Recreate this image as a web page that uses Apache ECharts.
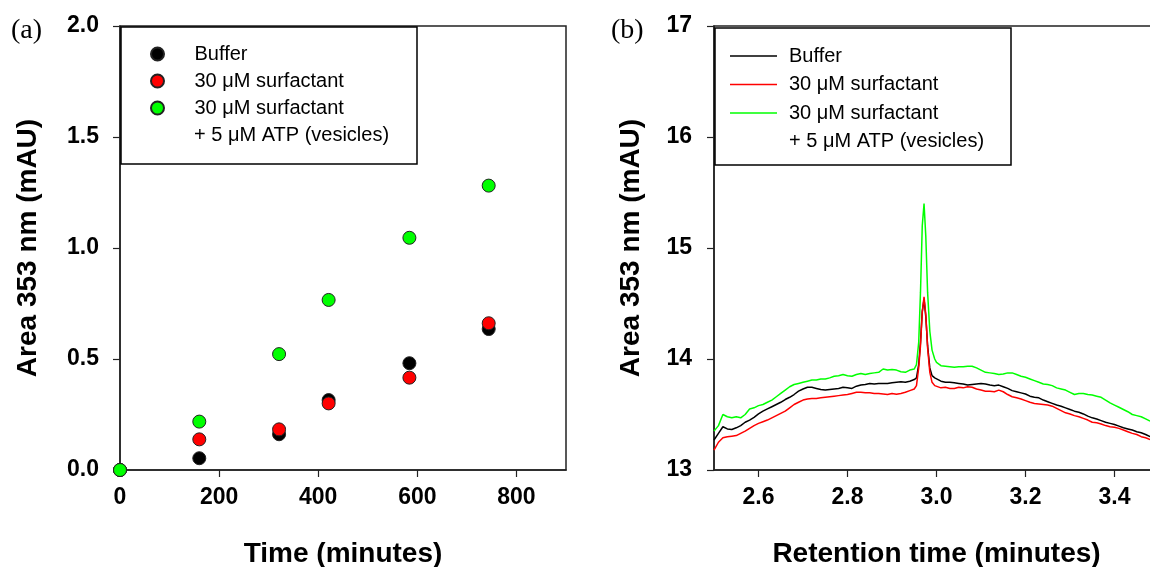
<!DOCTYPE html>
<html>
<head>
<meta charset="utf-8">
<script src="https://cdn.jsdelivr.net/npm/echarts@6/dist/echarts.min.js"></script>
<style>html,body{margin:0;padding:0;background:#fff}#c{width:1150px;height:567px}</style>
</head>
<body>
<div id="c"></div>
<script>
// ---------- Panel (a) data ----------
const scatterTime = [0, 160, 321, 421, 584, 744];
const bufferArea = [0, 0.053, 0.161, 0.315, 0.481, 0.635];
const surfactantArea = [0, 0.138, 0.183, 0.300, 0.416, 0.661];
const vesicleArea = [0, 0.218, 0.522, 0.766, 1.046, 1.281];
const xTicksA = [0, 200, 400, 600, 800];

// ---------- Panel (b) data ----------
const retTime = [
  2.50,2.51,2.52,2.53,2.54,2.55,2.56,2.57,2.58,2.59,
  2.60,2.61,2.62,2.63,2.64,2.65,2.66,2.67,2.68,2.69,
  2.70,2.71,2.72,2.73,2.74,2.75,2.76,2.77,2.78,2.79,
  2.80,2.81,2.82,2.83,2.84,2.85,2.86,2.87,2.88,2.89,
  2.90,2.91,2.92,2.93,2.94,2.95,
  2.955,2.960,2.964,2.968,2.972,2.976,2.980,2.985,2.990,2.996,
  3.00,3.01,3.02,3.03,3.04,3.05,3.06,3.07,3.08,3.09,
  3.10,3.11,3.12,3.13,3.14,3.15,3.16,3.17,3.18,3.19,
  3.20,3.21,3.22,3.23,3.24,3.25,3.26,3.27,3.28,3.29,
  3.30,3.31,3.32,3.33,3.34,3.35,3.36,3.37,3.38,3.39,
  3.40,3.41,3.42,3.43,3.44,3.45,3.46,3.47,3.48
];
const bufferTrace = [
  13.27,13.33,13.39,13.37,13.365,13.38,13.40,13.43,13.45,13.475,
  13.505,13.53,13.55,13.57,13.59,13.61,13.635,13.655,13.68,13.71,
  13.73,13.745,13.745,13.735,13.725,13.72,13.725,13.73,13.735,13.745,
  13.74,13.735,13.755,13.765,13.77,13.78,13.775,13.78,13.78,13.78,
  13.785,13.79,13.795,13.79,13.80,13.815,
  13.83,13.95,14.15,14.43,14.54,14.38,14.12,13.92,13.85,13.83,
  13.815,13.80,13.79,13.79,13.785,13.78,13.775,13.765,13.77,13.775,
  13.78,13.775,13.765,13.76,13.765,13.75,13.735,13.715,13.705,13.695,
  13.685,13.665,13.655,13.65,13.63,13.615,13.60,13.585,13.575,13.56,
  13.545,13.53,13.52,13.505,13.485,13.47,13.46,13.445,13.43,13.42,
  13.41,13.395,13.38,13.37,13.36,13.345,13.335,13.32,13.30
];
const surfactantTrace = [
  13.18,13.25,13.29,13.30,13.305,13.31,13.33,13.35,13.375,13.40,
  13.42,13.435,13.45,13.47,13.49,13.51,13.53,13.56,13.59,13.61,
  13.63,13.64,13.645,13.645,13.65,13.655,13.66,13.665,13.67,13.675,
  13.68,13.69,13.70,13.70,13.695,13.695,13.69,13.69,13.685,13.68,
  13.69,13.683,13.69,13.70,13.715,13.73,
  13.76,13.92,14.12,14.42,14.56,14.40,14.10,13.88,13.79,13.76,
  13.75,13.74,13.745,13.735,13.735,13.745,13.74,13.75,13.745,13.73,
  13.72,13.71,13.71,13.705,13.72,13.705,13.68,13.66,13.65,13.64,
  13.625,13.61,13.60,13.595,13.59,13.585,13.575,13.555,13.535,13.515,
  13.505,13.49,13.48,13.465,13.45,13.43,13.425,13.415,13.40,13.39,
  13.385,13.375,13.36,13.345,13.33,13.32,13.30,13.29,13.275
];
const vesicleTrace = [
  13.35,13.40,13.50,13.48,13.47,13.48,13.47,13.50,13.55,13.56,
  13.58,13.59,13.61,13.63,13.66,13.69,13.72,13.75,13.77,13.78,
  13.79,13.80,13.81,13.81,13.82,13.82,13.83,13.845,13.85,13.86,
  13.85,13.845,13.86,13.87,13.86,13.87,13.875,13.88,13.91,13.90,
  13.905,13.90,13.885,13.88,13.90,13.91,
  13.95,14.15,14.6,15.2,15.40,15.1,14.6,14.25,14.08,14.0,
  13.97,13.94,13.935,13.93,13.925,13.93,13.93,13.935,13.935,13.92,
  13.90,13.88,13.875,13.87,13.86,13.865,13.875,13.875,13.86,13.845,
  13.835,13.82,13.805,13.79,13.775,13.77,13.76,13.74,13.73,13.72,
  13.70,13.68,13.69,13.69,13.68,13.675,13.665,13.655,13.63,13.605,
  13.585,13.565,13.545,13.525,13.50,13.49,13.48,13.46,13.44
];
const xTicksB = [2.6, 2.8, 3.0, 3.2, 3.4];

const names = ['Buffer', '30 \u03bcM surfactant', '30 \u03bcM surfactant '];
const namesB = ['Buffer ', '30 \u03bcM surfactant  ', '30 \u03bcM surfactant   '];
const secondLine = '+ 5 \u03bcM ATP (vesicles)';

const SANS = '"Liberation Sans", Arial, sans-serif';
const SERIF = '"Liberation Serif", "Times New Roman", serif';
const AXC = '#222';
const GREEN = '#00ff00';

const zip = (xs, ys) => xs.map((x, i) => [x, ys[i]]);

function valueAxisCommon() {
  return {
    type: 'value',
    axisLine: {show: true, lineStyle: {color: AXC, width: 1.5}},
    axisTick: {show: true, inside: false, length: 7, lineStyle: {color: AXC, width: 1.2}},
    splitLine: {show: false},
    axisLabel: {color: '#000', fontFamily: SANS, fontWeight: 'bold', fontSize: 23},
    nameLocation: 'middle',
    nameTextStyle: {color: '#000', fontFamily: SANS, fontWeight: 'bold', fontSize: 28}
  };
}

const xA = Object.assign(valueAxisCommon(), {
  gridIndex: 0, min: 0, max: 900, interval: 200,
  name: 'Time (minutes)', nameGap: 70
});
xA.axisLabel = Object.assign({}, xA.axisLabel, {margin: 16, showMaxLabel: false,
  formatter: v => (xTicksA.indexOf(v) >= 0 ? String(v) : '')});

const yA = Object.assign(valueAxisCommon(), {
  gridIndex: 0, min: 0, max: 2, interval: 0.5,
  name: 'Area 353 nm (mAU)', nameGap: 78
});
yA.axisLabel = Object.assign({}, yA.axisLabel, {margin: 21, formatter: v => v.toFixed(1)});

const xB = Object.assign(valueAxisCommon(), {
  gridIndex: 1, min: 2.5, max: 3.5,
  name: 'Retention time (minutes)', nameGap: 70
});
xB.axisTick = Object.assign({}, xB.axisTick, {customValues: xTicksB});
xB.axisLabel = Object.assign({}, xB.axisLabel, {margin: 16, customValues: xTicksB,
  formatter: v => Number(v).toFixed(1)});

const yB = Object.assign(valueAxisCommon(), {
  gridIndex: 1, min: 13, max: 17, interval: 1,
  name: 'Area 353 nm (mAU)', nameGap: 69
});
yB.axisLabel = Object.assign({}, yB.axisLabel, {margin: 22});

const scatterStyle = (c) => ({color: c, borderColor: '#222', borderWidth: 1, opacity: 1});
const lineSeries = (name, ys, c) => ({
  name, type: 'line', xAxisIndex: 1, yAxisIndex: 1, data: zip(retTime, ys),
  symbol: 'none', showSymbol: false, lineStyle: {color: c, width: 1.5}, itemStyle: {color: c},
  animation: false, z: 2
});

const option = {
  animation: false,
  backgroundColor: '#fff',
  grid: [
    {left: 120, top: 26, width: 446, height: 444, outerBoundsMode: 'none', containLabel: false,
     show: true, borderColor: AXC, borderWidth: 1.5, backgroundColor: 'transparent'},
    {left: 714, top: 26, width: 445, height: 444, outerBoundsMode: 'none', containLabel: false,
     show: true, borderColor: AXC, borderWidth: 1.5, backgroundColor: 'transparent'}
  ],
  xAxis: [xA, xB],
  yAxis: [yA, yB],
  legend: [
    {
      data: names, orient: 'vertical', left: 150, top: 44, padding: 0,
      itemWidth: 64, itemHeight: 13, itemGap: 7, icon: 'circle',
      itemStyle: {opacity: 1},
      textStyle: {color: '#000', fontFamily: SANS, fontSize: 20, lineHeight: 20},
      selectedMode: false, z: 5
    },
    {
      data: namesB, orient: 'vertical', left: 730, top: 46, padding: 0,
      itemWidth: 47, itemHeight: 1.5, itemGap: 8.5, icon: 'rect',
      textStyle: {color: '#000', fontFamily: SANS, fontSize: 20, lineHeight: 20, padding: [0, 0, 0, 7]},
      selectedMode: false, z: 5
    }
  ],
  graphic: [
    {type: 'rect', z: 3, shape: {x: 121, y: 27, width: 296, height: 137},
     style: {fill: '#fff', stroke: '#000', lineWidth: 1.5}},
    {type: 'rect', z: 3, shape: {x: 715, y: 28, width: 296, height: 137},
     style: {fill: '#fff', stroke: '#000', lineWidth: 1.5}},
    {type: 'text', z: 6, left: 194, top: 125,
     style: {text: secondLine, fill: '#000', font: '20px ' + SANS}},
    {type: 'text', z: 6, left: 789, top: 131,
     style: {text: secondLine, fill: '#000', font: '20px ' + SANS}},
    {type: 'text', z: 6, left: 11, top: 17,
     style: {text: '(a)', fill: '#000', font: '28px ' + SERIF}},
    {type: 'text', z: 6, left: 611, top: 17,
     style: {text: '(b)', fill: '#000', font: '28px ' + SERIF}}
  ],
  series: [
    {name: names[0], type: 'scatter', xAxisIndex: 0, yAxisIndex: 0, data: zip(scatterTime, bufferArea),
     symbol: 'circle', symbolSize: 13, itemStyle: scatterStyle('#000000'), z: 2},
    {name: names[1], type: 'scatter', xAxisIndex: 0, yAxisIndex: 0, data: zip(scatterTime, surfactantArea),
     symbol: 'circle', symbolSize: 13, itemStyle: scatterStyle('#ff0000'), z: 2},
    {name: names[2], type: 'scatter', xAxisIndex: 0, yAxisIndex: 0, data: zip(scatterTime, vesicleArea),
     symbol: 'circle', symbolSize: 13, itemStyle: scatterStyle(GREEN), z: 2},
    lineSeries(namesB[0], bufferTrace, '#000000'),
    lineSeries(namesB[1], surfactantTrace, '#ff0000'),
    lineSeries(namesB[2], vesicleTrace, GREEN)
  ]
};

const chart = echarts.init(document.getElementById('c'), null, {renderer: 'canvas'});
chart.setOption(option);
</script>
</body>
</html>
